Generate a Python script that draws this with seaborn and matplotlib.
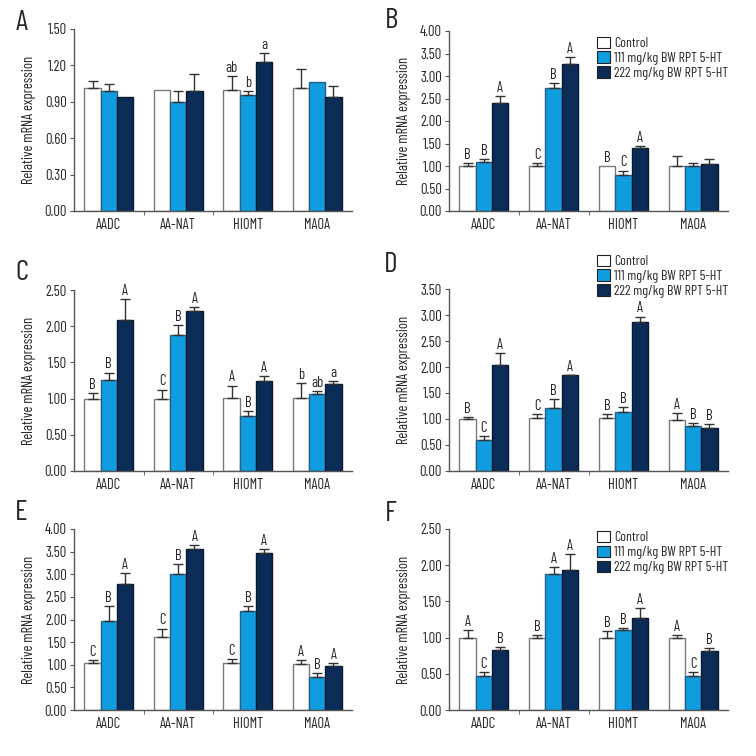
import numpy as np
import pandas as pd
import matplotlib
matplotlib.use("Agg")
import matplotlib.pyplot as plt
import seaborn as sns
from matplotlib.patches import Patch

genes = ["AADC", "AA-NAT", "HIOMT", "MAOA"]
groups = ["Control", "111 mg/kg BW RPT 5-HT", "222 mg/kg BW RPT 5-HT"]
colors = ["#ffffff", "#0f9de0", "#0a2c57"]
edges = ["#7a7a7a", "#2a5f85", "#0a1a33"]

# panel A
a_ctrl = [1.01, 1.00, 1.00, 1.01]
a_ctrl_sem = [0.06, 0.0, 0.11, 0.16]
a_low = [0.99, 0.90, 0.96, 1.06]
a_low_sem = [0.055, 0.085, 0.03, 0.0]
a_high = [0.94, 0.99, 1.23, 0.94]
a_high_sem = [0.0, 0.14, 0.07, 0.09]
a_letters = [["", "", "ab", ""], ["", "", "b", ""], ["", "", "a", ""]]

# panel B
b_ctrl = [0.99, 1.00, 0.99, 0.99]
b_ctrl_sem = [0.08, 0.07, 0.0, 0.24]
b_low = [1.08, 2.74, 0.81, 0.99]
b_low_sem = [0.08, 0.11, 0.09, 0.07]
b_high = [2.39, 3.27, 1.39, 1.04]
b_high_sem = [0.17, 0.15, 0.06, 0.12]
b_letters = [["B", "C", "B", ""], ["B", "B", "C", ""], ["A", "A", "A", ""]]

# panel C
c_ctrl = [1.00, 1.00, 1.01, 1.015]
c_ctrl_sem = [0.08, 0.125, 0.17, 0.195]
c_low = [1.26, 1.88, 0.765, 1.07]
c_low_sem = [0.10, 0.13, 0.065, 0.04]
c_high = [2.08, 2.21, 1.245, 1.195]
c_high_sem = [0.29, 0.06, 0.065, 0.05]
c_letters = [["B", "C", "A", "b"], ["B", "B", "B", "ab"], ["A", "A", "A", "a"]]

# panel D
d_ctrl = [1.00, 1.01, 1.02, 0.99]
d_ctrl_sem = [0.04, 0.08, 0.07, 0.12]
d_low = [0.605, 1.22, 1.13, 0.86]
d_low_sem = [0.065, 0.16, 0.105, 0.06]
d_high = [2.03, 1.84, 2.86, 0.83]
d_high_sem = [0.24, 0.01, 0.11, 0.065]
d_letters = [["B", "C", "B", "A"], ["C", "B", "B", "B"], ["A", "A", "A", "B"]]

# panel E
e_ctrl = [1.03, 1.61, 1.03, 1.01]
e_ctrl_sem = [0.08, 0.19, 0.09, 0.09]
e_low = [1.97, 3.01, 2.19, 0.74]
e_low_sem = [0.33, 0.21, 0.10, 0.07]
e_high = [2.78, 3.55, 3.47, 0.98]
e_high_sem = [0.25, 0.09, 0.09, 0.05]
e_letters = [["C", "C", "C", "A"], ["B", "B", "B", "B"], ["A", "A", "A", "A"]]

# panel F
f_ctrl = [1.00, 1.00, 1.00, 1.00]
f_ctrl_sem = [0.11, 0.04, 0.09, 0.04]
f_low = [0.475, 1.88, 1.10, 0.475]
f_low_sem = [0.045, 0.10, 0.03, 0.045]
f_high = [0.825, 1.94, 1.27, 0.81]
f_high_sem = [0.05, 0.22, 0.14, 0.04]
f_letters = [["A", "B", "B", "A"], ["C", "A", "B", "C"], ["B", "A", "A", "B"]]

sns.set_style("ticks")
# narrow face, close to the condensed type of the original figure
plt.rcParams["font.family"] = ["Barlow Condensed", "Archivo Narrow", "DejaVu Sans"]

FS = 10.5


def draw_panel(ax, means, sems, letters, ymax, step, legend_y=None):
    df = pd.DataFrame({
        "gene": genes * 3,
        "group": np.repeat(groups, 4),
        "value": np.concatenate(means),
    })
    sns.barplot(data=df, x="gene", y="value", hue="group", hue_order=groups,
                palette=colors, saturation=1, width=0.7, gap=0, errorbar=None,
                ax=ax, legend=False)
    bars = list(ax.containers)
    for i, cont in enumerate(bars):
        for j, p in enumerate(cont.patches):
            p.set_edgecolor(edges[i])
            p.set_linewidth(1.0)
            xc = p.get_x() + p.get_width() / 2
            h = p.get_height()
            s = sems[i][j]
            if s > 0:
                ax.errorbar(xc, h, yerr=[[0], [s]], fmt="none", ecolor="#333333",
                            elinewidth=1.0, capsize=3.5, capthick=1.0, zorder=1)
            if letters[i][j]:
                ax.text(xc, h + s + ymax * 0.006, letters[i][j], ha="center",
                        va="bottom", fontsize=FS)
    ax.set_xlim(-0.5, 3.5)
    ax.set_ylim(0, ymax)
    ticks = np.arange(0, ymax + 1e-6, step)
    ax.set_yticks(ticks)
    ax.set_yticklabels([f"{v:.2f}" for v in ticks])
    ax.set_xticks([0.5, 1.5], minor=True)
    ax.tick_params(axis="x", which="major", length=0, pad=5, labelsize=FS)
    ax.tick_params(axis="x", which="minor", length=3, color="#555555")
    ax.tick_params(axis="y", length=3, labelsize=FS, color="#555555", pad=2)
    ax.set_xlabel("")
    ax.set_ylabel("Relative mRNA expression", fontsize=FS)
    ax.yaxis.set_label_coords(-0.135, 0.5)
    for side in ["left", "bottom"]:
        ax.spines[side].set_color("#555555")
        ax.spines[side].set_linewidth(1.0)
    sns.despine(ax=ax)
    if legend_y is not None:
        handles = [Patch(facecolor=c, edgecolor="#222222", linewidth=0.8) for c in colors]
        ax.legend(handles, groups, loc="upper right", bbox_to_anchor=(1.02, legend_y),
                  frameon=False, fontsize=FS - 0.5, handlelength=0.9, handleheight=0.9,
                  handletextpad=0.3, labelspacing=0.1, borderaxespad=0)


fig = plt.figure(figsize=(7.56, 7.56), dpi=100)
W = 756.0
specs = [
    ("A", (74, 211, 278, 182), a_ctrl, a_low, a_high, a_ctrl_sem, a_low_sem, a_high_sem, a_letters, 1.5, 0.3, None, (16, 30)),
    ("B", (449, 211, 279, 180), b_ctrl, b_low, b_high, b_ctrl_sem, b_low_sem, b_high_sem, b_letters, 4.0, 0.5, 1.0, (385, 28)),
    ("C", (74, 471, 278, 181), c_ctrl, c_low, c_high, c_ctrl_sem, c_low_sem, c_high_sem, c_letters, 2.5, 0.5, None, (15, 280)),
    ("D", (449, 471, 279, 182), d_ctrl, d_low, d_high, d_ctrl_sem, d_low_sem, d_high_sem, d_letters, 3.5, 0.5, 1.22, (384, 272)),
    ("E", (74, 710, 278, 181), e_ctrl, e_low, e_high, e_ctrl_sem, e_low_sem, e_high_sem, e_letters, 4.0, 0.5, None, (15, 520)),
    ("F", (449, 710, 279, 181), f_ctrl, f_low, f_high, f_ctrl_sem, f_low_sem, f_high_sem, f_letters, 2.5, 0.5, 1.02, (385, 521)),
]
for (lab, (l, b, w, h), m0, m1, m2, s0, s1, s2, lets, ymax, step, leg, (tx, ty)) in specs:
    ax = fig.add_axes([l / W, 1 - b / W, w / W, h / W])
    draw_panel(ax, [m0, m1, m2], [s0, s1, s2], lets, ymax, step, leg)
    fig.text(tx / W, 1 - ty / W, lab, fontsize=21, ha="left", va="baseline")

fig.savefig("out.png", dpi=100, facecolor="white")
